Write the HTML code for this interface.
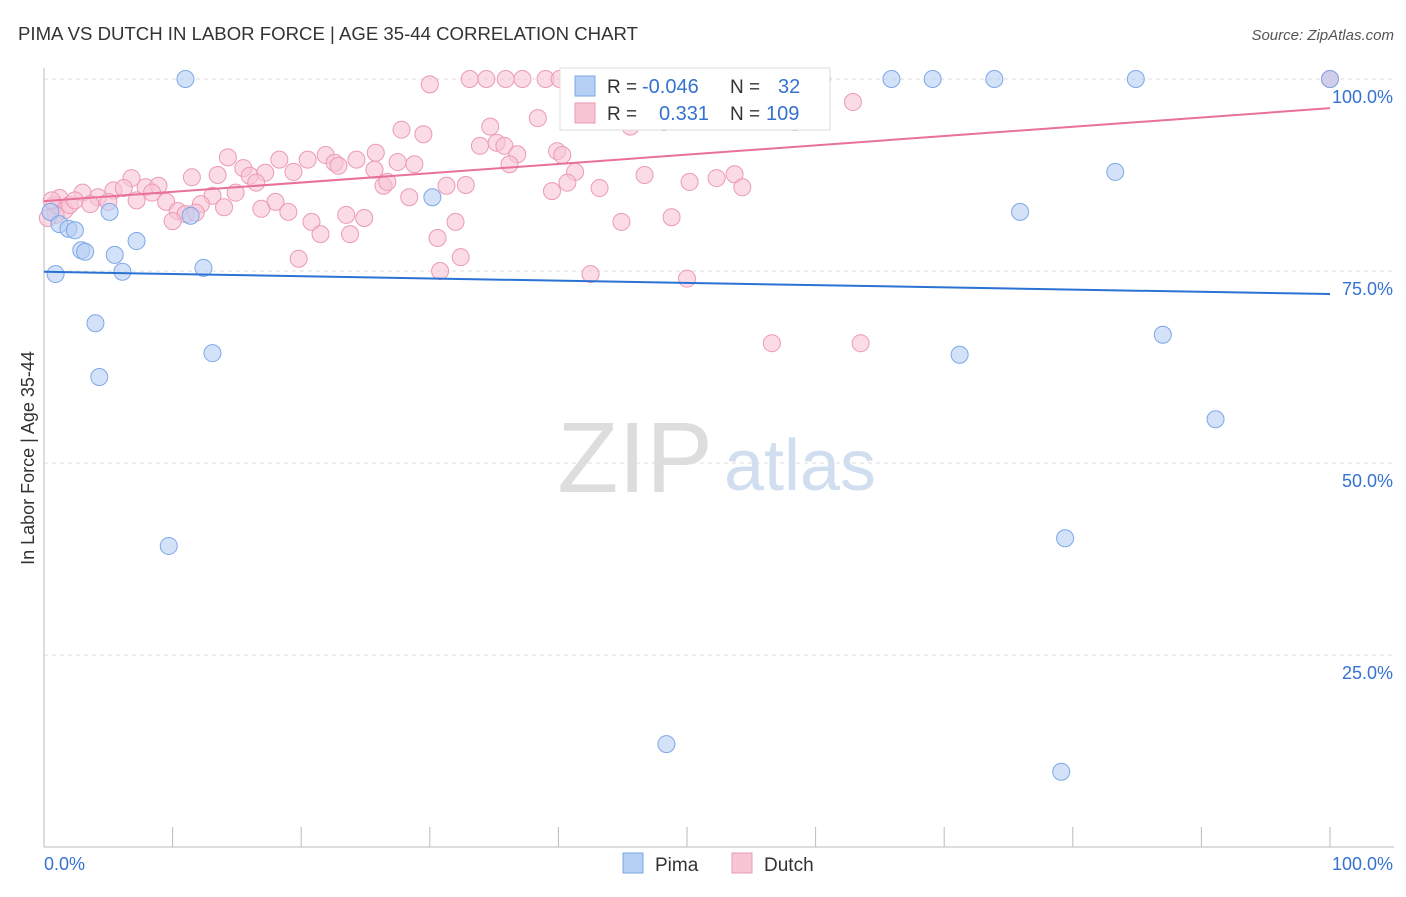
<!DOCTYPE html>
<html><head><meta charset="utf-8"><style>
body{margin:0;background:#fff;font-family:"Liberation Sans",sans-serif;}
svg text{font-family:"Liberation Sans",sans-serif;}
</style></head><body>
<svg id="chart" width="1406" height="892" xmlns="http://www.w3.org/2000/svg">
<text x="18" y="40" font-size="18.6" fill="#333">PIMA VS DUTCH IN LABOR FORCE | AGE 35-44 CORRELATION CHART</text>
<text x="1394" y="40" font-size="15" fill="#555" text-anchor="end" font-style="italic">Source: ZipAtlas.com</text>
<text x="635" y="492" font-size="100" fill="#ddd" font-family="Liberation Serif" text-anchor="middle">ZIP</text>
<text x="800" y="490" font-size="72" fill="#d0def0" text-anchor="middle">atlas</text>
<text transform="translate(34,458) rotate(-90)" font-size="18" fill="#333" text-anchor="middle">In Labor Force | Age 35-44</text>
<g id="grid"></g><g id="axes"></g><g id="marks"></g>
<g>
<rect x="560" y="68" width="270" height="62" fill="#fff" stroke="#ddd"/>
<rect x="575" y="76" width="20" height="20" fill="#b5cff5" stroke="#7ea7e6"/>
<text x="607" y="93" font-size="19" fill="#333">R =</text><text x="642" y="93" font-size="20" fill="#3572d0">-0.046</text>
<text x="730" y="93" font-size="19" fill="#333">N =</text><text x="778" y="93" font-size="20" fill="#3572d0">32</text>
<rect x="575" y="103" width="20" height="20" fill="#f8c5d5" stroke="#eb9ab4"/>
<text x="607" y="120" font-size="19" fill="#333">R =</text><text x="659" y="120" font-size="20" fill="#3572d0">0.331</text>
<text x="730" y="120" font-size="19" fill="#333">N =</text><text x="766" y="120" font-size="20" fill="#3572d0">109</text>
</g>
<g>
<rect x="623" y="853" width="20" height="20" fill="#b5cff5" stroke="#7ea7e6"/>
<text x="655" y="871" font-size="19" fill="#333">Pima</text>
<rect x="732" y="853" width="20" height="20" fill="#f8c5d5" stroke="#eb9ab4"/>
<text x="764" y="871" font-size="19" fill="#333">Dutch</text>
</g>
</svg>
<script>
const yTicks=[25,50,75,100];
const yTickLabels=["25.0%","50.0%","75.0%","100.0%"];
const pimaX=[11,65.9,69.1,73.9,84.9,100,83.3,75.9,30.2,5.1,11.4,0.5,1.2,1.9,2.4,7.2,2.9,3.2,5.5,0.9,6.1,12.4,4,13.1,4.3,71.2,87,91.1,9.7,79.4,48.4,79.1];
const pimaY=[100,100,100,100,100,100,87.9,82.7,84.6,82.7,82.2,82.7,81.1,80.5,80.3,78.9,77.7,77.5,77.1,74.6,74.9,75.4,68.2,64.3,61.2,64.1,66.7,55.7,39.2,40.2,13.4,9.8];
const dutchPx=[[430,84],[470,79],[487,79],[522,79],[545,79],[580,79],[822,79],[800,79],[1330,79],[853,102],[401,130],[423,134],[490,127],[538,118],[626,115],[664,122],[630,127],[758,97],[795,122],[480,146],[497,143],[505,146],[517,154],[557,151],[562,155],[510,164],[575,172],[228,157],[279,160],[307,160],[325,155],[334,163],[338,166],[357,160],[376,153],[398,162],[415,164],[243,168],[250,176],[265,173],[294,172],[374,170],[192,177],[218,175],[132,178],[256,183],[145,187],[158,186],[383,186],[388,182],[446,186],[466,185],[552,191],[567,183],[600,188],[645,175],[690,182],[716,178],[734,174],[742,187],[114,190],[124,188],[82,193],[98,197],[108,202],[136,200],[152,193],[166,202],[212,196],[236,193],[275,202],[409,197],[201,204],[224,207],[178,211],[186,214],[196,213],[261,209],[288,212],[312,222],[346,215],[364,218],[320,234],[350,234],[455,222],[437,238],[621,222],[671,217],[172,221],[298,259],[440,271],[461,257],[591,274],[687,279],[772,343],[861,343],[54,205],[60,198],[64,210],[70,205],[75,200],[56,215],[48,218],[52,200],[90,204],[612,79],[506,79],[560,79],[1330,79]];
const dutchX=dutchPx.map(p=>+((p[0]-44)/12.86).toFixed(1));
const dutchY=dutchPx.map(p=>+((847-p[1])/7.68).toFixed(1));
const pimaTrend=[74.9,72.0];
const dutchTrend=[84.1,96.2];
const X=v=>44+v*12.86, Y=v=>847-v*7.68;
const NS="http://www.w3.org/2000/svg";
function mk(t,a,parent){const e=document.createElementNS(NS,t);for(const k in a)e.setAttribute(k,a[k]);document.getElementById(parent).appendChild(e);return e;}
yTicks.forEach((t,i)=>{
 const l=mk('line',{x1:44,x2:1394,y1:Y(t),y2:Y(t),stroke:'#ddd','stroke-dasharray':'4,4'},'grid');
 
 
 const tx=mk('text',{x:1393,y:Y(t)+24,'font-size':18,fill:'#3572d0','text-anchor':'end'},'grid');
 tx.textContent=yTickLabels[i];
 
 
});
let a=mk('line',{x1:44,x2:44,y1:68,y2:847,stroke:'#bbb'},'axes');


a=mk('line',{x1:44,x2:1394,y1:847,y2:847,stroke:'#bbb'},'axes');


for(let i=0;i<=10;i++){const tk=mk('line',{x1:X(i*10),x2:X(i*10),y1:827,y2:847,stroke:'#bbb'},'axes');
 
 }
let t=mk('text',{x:44,y:870,'font-size':18,fill:'#3572d0'},'axes');t.textContent='0.0%';


t=mk('text',{x:1393,y:870,'font-size':18,fill:'#3572d0','text-anchor':'end'},'axes');t.textContent='100.0%';


dutchX.forEach((x,i)=>{const c=mk('circle',{cx:X(x),cy:Y(dutchY[i]),r:8.5,fill:'#f8c5d5','fill-opacity':0.6,stroke:'#eb9ab4'},'marks');
 
 });
pimaX.forEach((x,i)=>{const c=mk('circle',{cx:X(x),cy:Y(pimaY[i]),r:8.5,fill:'#b5cff5','fill-opacity':0.6,stroke:'#7ea7e6'},'marks');
 
 });
let ln=mk('line',{x1:X(0),x2:X(100),y1:Y(pimaTrend[0]),y2:Y(pimaTrend[1]),stroke:'#2a72d4','stroke-width':2},'marks');


ln=mk('line',{x1:X(0),x2:X(100),y1:Y(dutchTrend[0]),y2:Y(dutchTrend[1]),stroke:'#e8709a','stroke-width':2},'marks');


</script>
</body></html>
